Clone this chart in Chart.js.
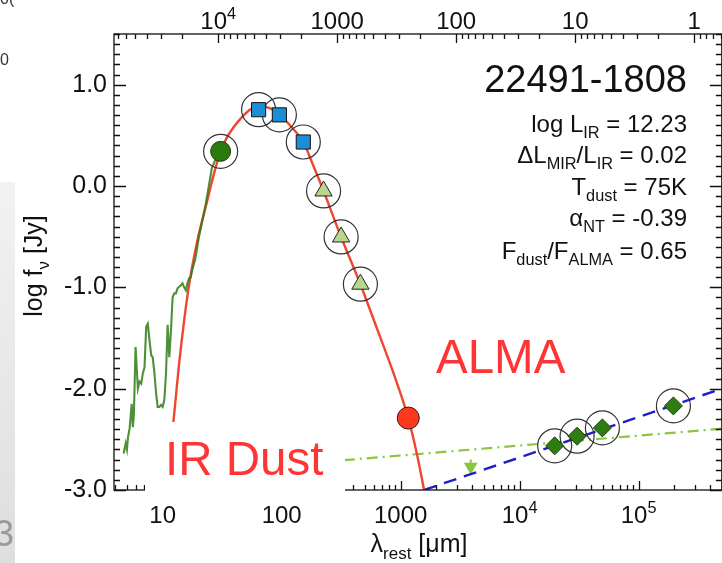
<!DOCTYPE html>
<html>
<head>
<meta charset="utf-8">
<script src="https://cdn.jsdelivr.net/npm/chart.js@4.4.1/dist/chart.umd.min.js"></script>
<style>
  html, body { margin: 0; padding: 0; background: #fff; overflow: hidden; }
  #wrap { width: 722px; height: 563px; overflow: hidden; position: relative; }
  canvas { display: block; }
</style>
</head>
<body>
<div id="wrap"><canvas id="sed" width="740" height="563"></canvas></div>
<script>
// rest wavelength [micron] vs log flux density [Jy]
const modelLam  = [10.7, 12.3, 14.0, 16.4, 19.6, 23.0, 27.0, 30.7, 34.8, 39.6, 46.4, 54.8, 66.4, 80.5, 97.5, 121, 152, 184, 225, 316, 459, 640, 853, 1159, 1377, 1575];
const modelLogF = [-3.0, -2.33, -1.67, -1.03, -0.535, -0.207, 0.122, 0.342, 0.483, 0.582, 0.680, 0.756, 0.786, 0.766, 0.697, 0.582, 0.434, 0.204, -0.049, -0.503, -0.969, -1.423, -1.818, -2.291, -2.657, -3.0];

// IRS spectrum
const specLam  = [4.70, 4.89, 5.01, 5.11, 5.28, 5.38, 5.49, 5.62, 5.73, 5.92, 6.19, 6.40, 6.61, 6.81, 7.04, 7.27, 7.50, 7.75, 8.01, 8.25, 8.53, 8.81, 9.08, 9.39, 9.70, 10.0, 10.33, 10.67, 11.01, 11.37, 11.75, 12.12, 12.52, 12.93, 13.34, 14.23, 14.68, 15.16, 15.67, 16.16, 16.69, 17.25, 17.78, 18.73, 20.2, 23.0, 25.9, 29.1];
const specLogF = [-2.64, -2.54, -2.60, -2.48, -2.39, -2.28, -2.15, -2.38, -2.25, -1.59, -2.00, -1.93, -1.95, -1.85, -1.79, -1.39, -1.36, -1.52, -1.67, -1.69, -1.85, -2.05, -2.18, -2.18, -2.16, -2.18, -2.11, -1.85, -1.37, -1.69, -1.42, -1.10, -1.06, -1.06, -1.01, -0.98, -0.96, -1.00, -1.03, -0.96, -0.91, -0.90, -0.82, -0.73, -0.50, -0.18, 0.175, 0.32];

// photometry
const mipsLam = [30.7];
const mipsLogF = [0.342];
const pacsLam = [64.0, 95.7, 152];
const pacsLogF = [0.753, 0.702, 0.434];
const spireLam = [225, 316, 459];
const spireLogF = [-0.049, -0.503, -0.969];
const almaLam = [1159];
const almaLogF = [-2.29];
const radioLam = [19700, 30400, 49600, 196000];
const radioLogF = [-2.564, -2.469, -2.387, -2.170];

// power laws and upper limit
const syncLam = [1575, 500000];
const syncLogF = [-3.0, -2.0];
const ffLam = [333, 500000];
const ffLogF = [-2.706, -2.395];
const limitLam = [3880, 3880];
const limitLogF = [-2.70, -2.77];

// axes
const lamMin = 3.9, lamMax = 500000;
const lamTicks = [10, 100, 1000, 10000, 100000];
const lamTickLabels = [[['10', 0]], [['100', 0]], [['1000', 0]], [['10', 0], ['4', 2]], [['10', 0], ['5', 2]]];
const nuPerLam = 2.93e5; // GHz * micron, observed frame
const nuTicks = [1, 10, 100, 1000, 10000];
const nuTickLabels = [[['1', 0]], [['10', 0]], [['100', 0]], [['1000', 0]], [['10', 0], ['4', 2]]];
const yTicks = [-3, -2, -1, 0, 1];

const sourceName = '22491-1808';
const infoLines = [
    [['log L', 0], ['IR', 1], [' = 12.23', 0]],
    [['ΔL', 0], ['MIR', 1], ['/L', 0], ['IR', 1], [' = 0.02', 0]],
    [['T', 0], ['dust', 1], [' = 75K', 0]],
    [['α', 0], ['NT', 1], [' = -0.39', 0]],
    [['F', 0], ['dust', 1], ['/F', 0], ['ALMA', 1], [' = 0.65', 0]]
];
const yTitle = [['log f', 0], ['ν', 1], [' [Jy]', 0]];
const xTitle = [['λ', 0], ['rest', 1], [' [μm]', 0]];

const FONT = "'Liberation Sans', Arial, Helvetica, sans-serif";

function pts(xs, ys) {
    return xs.map((x, i) => ({ x: x, y: ys[i] }));
}

// parts: [text, 0 normal | 1 subscript | 2 superscript]
function drawRich(ctx, parts, x, y, size, align) {
    let total = 0;
    const widths = parts.map(p => {
        ctx.font = (p[1] ? size * 0.68 : size) + 'px ' + FONT;
        const w = ctx.measureText(p[0]).width;
        total += w;
        return w;
    });
    let cx = x;
    if (align === 'right') cx = x - total;
    if (align === 'center') cx = x - total / 2;
    ctx.textAlign = 'left';
    ctx.textBaseline = 'alphabetic';
    parts.forEach((p, i) => {
        ctx.font = (p[1] ? size * 0.68 : size) + 'px ' + FONT;
        let dy = 0;
        if (p[1] === 1) dy = size * 0.26;
        if (p[1] === 2) dy = -size * 0.4;
        ctx.fillText(p[0], cx, y + dy);
        cx += widths[i];
    });
}

const sedDecor = {
    id: 'sedDecor',
    afterDraw(chart) {
        const ctx = chart.ctx;
        const a = chart.chartArea;
        const xs = chart.scales.x, ys = chart.scales.y, ts = chart.scales.x2;
        ctx.save();

        // frame + inward ticks
        ctx.strokeStyle = '#111';
        ctx.lineWidth = 1.3;
        ctx.strokeRect(a.left, a.top, a.right - a.left, a.bottom - a.top);
        ctx.beginPath();
        for (let i = -30; i <= 15; i++) {
            const py = Math.round(ys.getPixelForValue(i / 10)) + 0.5;
            const len = i % 10 === 0 ? 12 : 6;
            ctx.moveTo(a.left, py); ctx.lineTo(a.left + len, py);
            ctx.moveTo(a.right, py); ctx.lineTo(a.right - len, py);
        }
        for (let d = 0; d <= 5; d++) {
            for (let m = 1; m <= 9; m++) {
                const v = m * Math.pow(10, d);
                if (v < xs.min || v > xs.max) continue;
                const px = Math.round(xs.getPixelForValue(v)) + 0.5;
                ctx.moveTo(px, a.bottom); ctx.lineTo(px, a.bottom - (m === 1 ? 9 : 5));
            }
        }
        for (let d = -1; d <= 4; d++) {
            for (let m = 1; m <= 9; m++) {
                const v = m * Math.pow(10, d);
                if (v < ts.min || v > ts.max) continue;
                const px = Math.round(ts.getPixelForValue(v)) + 0.5;
                ctx.moveTo(px, a.top); ctx.lineTo(px, a.top + (m === 1 ? 9 : 5));
            }
        }
        ctx.stroke();

        // tick labels of the two wavelength / frequency axes
        ctx.fillStyle = '#111';
        lamTicks.forEach((v, i) => drawRich(ctx, lamTickLabels[i], xs.getPixelForValue(v), 523, 24, 'center'));
        nuTicks.forEach((v, i) => drawRich(ctx, nuTickLabels[i], ts.getPixelForValue(v), 29, 24, 'center'));

        // labels on the plot
        ctx.fillStyle = '#fff';
        ctx.fillRect(145, 422, 200, 76);
        ctx.fillStyle = '#ff3535';
        ctx.font = '47.5px ' + FONT;
        ctx.textAlign = 'left';
        ctx.textBaseline = 'alphabetic';
        ctx.fillText('IR Dust', 165, 475);
        ctx.fillText('ALMA', 436, 373);

        ctx.fillStyle = '#111';
        ctx.font = '38px ' + FONT;
        ctx.textAlign = 'right';
        ctx.fillText(sourceName, 687, 92);
        const baselines = [132, 163, 194.5, 226, 259];
        infoLines.forEach((parts, i) => drawRich(ctx, parts, 687, baselines[i], 24, 'right'));

        // axis titles
        drawRich(ctx, xTitle, 419, 552, 25, 'center');
        ctx.save();
        ctx.translate(42, 266);
        ctx.rotate(-Math.PI / 2);
        drawRich(ctx, yTitle, 0, 0, 25, 'center');
        ctx.restore();

        // slide remnants at the left edge
        const g = ctx.createLinearGradient(0, 182, 0, 563);
        g.addColorStop(0, '#f2f2f2');
        g.addColorStop(1, '#dedede');
        ctx.fillStyle = g;
        ctx.fillRect(0, 182, 15, 381);
        ctx.fillStyle = '#999';
        ctx.font = '36px ' + FONT;
        ctx.textAlign = 'left';
        ctx.fillText('3', -6, 546);
        ctx.fillStyle = '#333';
        ctx.font = '16px ' + FONT;
        ctx.fillText('0', 0, 65);
        ctx.fillText('0(', 0, 4);
        ctx.restore();
    }
};

new Chart(document.getElementById('sed'), {
    type: 'scatter',
    data: {
        datasets: [
            {
                data: pts(mipsLam.concat(pacsLam, spireLam, radioLam), mipsLogF.concat(pacsLogF, spireLogF, radioLogF)),
                pointRadius: 17, pointBackgroundColor: 'rgba(0,0,0,0)', pointBorderColor: '#333', pointBorderWidth: 1.2,
                order: 5
            },
            {
                data: pts(mipsLam, mipsLogF),
                pointRadius: 10, pointBackgroundColor: '#2b7a0e', pointBorderColor: '#1d3d0a', pointBorderWidth: 1,
                order: 1
            },
            {
                data: pts(pacsLam, pacsLogF), pointStyle: 'rect',
                pointRadius: 10, pointBackgroundColor: '#1c8ed6', pointBorderColor: '#111', pointBorderWidth: 1,
                order: 1
            },
            {
                data: pts(spireLam, spireLogF), pointStyle: 'triangle',
                pointRadius: 10, pointBackgroundColor: '#b9d78c', pointBorderColor: '#222', pointBorderWidth: 1,
                order: 1
            },
            {
                data: pts(almaLam, almaLogF),
                pointRadius: 11, pointBackgroundColor: '#ff3a1c', pointBorderColor: '#222', pointBorderWidth: 1,
                order: 1
            },
            {
                data: pts(radioLam, radioLogF), pointStyle: 'rectRot',
                pointRadius: 9, pointBackgroundColor: '#2e7d12', pointBorderColor: '#1d3d0a', pointBorderWidth: 1,
                order: 1
            },
            {
                data: pts(specLam, specLogF), showLine: true, pointRadius: 0,
                borderColor: 'rgba(46,125,20,0.85)', borderWidth: 2.1,
                order: 8
            },
            {
                data: pts(modelLam, modelLogF), showLine: true, pointRadius: 0,
                borderColor: '#f0462e', borderWidth: 2.4, cubicInterpolationMode: 'monotone',
                order: 9
            },
            {
                data: pts(syncLam, syncLogF), showLine: true, pointRadius: 0,
                borderColor: '#1f1fc8', borderWidth: 2.4, borderDash: [13, 8],
                order: 10
            },
            {
                data: pts(ffLam, ffLogF), showLine: true, pointRadius: 0,
                borderColor: '#8cc640', borderWidth: 2.2, borderDash: [11, 5, 2, 5],
                order: 10
            },
            {
                data: pts(limitLam, limitLogF), showLine: true,
                pointRadius: [0, 6], pointStyle: 'triangle', pointRotation: 180,
                pointBackgroundColor: '#8cc640', pointBorderColor: '#8cc640',
                borderColor: '#8cc640', borderWidth: 2,
                order: 10
            }
        ]
    },
    options: {
        responsive: false,
        animation: false,
        devicePixelRatio: 1,
        layout: { padding: { left: 0, right: 13, top: 0, bottom: 0 } },
        plugins: { legend: { display: false }, tooltip: { enabled: false } },
        scales: {
            x: {
                type: 'logarithmic', position: 'bottom', min: lamMin, max: lamMax,
                grid: { display: false, drawTicks: false }, border: { display: false },
                afterBuildTicks: s => { s.ticks = lamTicks.map(v => ({ value: v, major: true })); },
                ticks: { display: false },
                afterFit: s => { s.height = 73; }
            },
            x2: {
                type: 'logarithmic', position: 'top', reverse: true,
                min: nuPerLam / lamMax, max: nuPerLam / lamMin,
                grid: { display: false, drawTicks: false }, border: { display: false },
                afterBuildTicks: s => { s.ticks = nuTicks.map(v => ({ value: v, major: true })); },
                ticks: { display: false },
                afterFit: s => { s.height = 34; }
            },
            y: {
                type: 'linear', position: 'left', min: -3, max: 1.5,
                grid: { display: false, drawTicks: false }, border: { display: false },
                afterBuildTicks: s => { s.ticks = yTicks.map(v => ({ value: v })); },
                ticks: {
                    callback: v => v.toFixed(1),
                    font: { family: FONT, size: 25 }, color: '#111', padding: 7
                },
                afterFit: s => { s.width = 114; }
            }
        }
    },
    plugins: [sedDecor]
});
</script>
</body>
</html>
